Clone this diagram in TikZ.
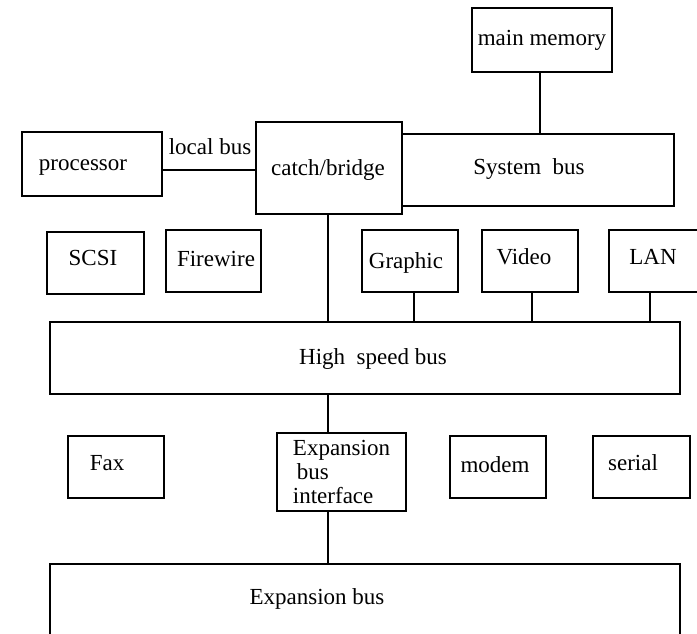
\documentclass[tikz,border=0pt]{standalone}
\usepackage{fontspec}
\setmainfont{Liberation Serif}
\usetikzlibrary{calc}
\begin{document}
\begin{tikzpicture}[x=1pt,y=-1pt,
  box/.style={draw, line width=1.8pt, rectangle, inner sep=0pt},
  txt/.style={inner sep=0pt, font=\fontsize{23}{24}\selectfont},
  wire/.style={line width=1.8pt},
  every label/.style={txt}]
\useasboundingbox (0,0) rectangle (697,634);
\clip (0,0) rectangle (697,634);

% memory and system bus
\node[box, minimum width=140pt, minimum height=64pt,
  label={[yshift=0pt]center:main memory}] (mem) at (542,40) {};
\node[box, minimum width=272pt, minimum height=72pt,
  label={[xshift=-9pt,yshift=1pt]center:System\ \ bus}] (sysbus) at (538,170) {};
\node[box, fill=white, minimum width=146pt, minimum height=92pt,
  label={[xshift=-1pt,yshift=-2pt]center:catch/bridge}] (bridge) at (329,168) {};
\node[box, minimum width=140pt, minimum height=64pt,
  label={[xshift=-9pt,yshift=-4pt]center:processor}] (proc) at (92,164) {};
\node[txt] (lb) at (210,147) {local bus};

% devices on the high speed bus
\node[box, minimum width=97pt, minimum height=62pt,
  label={[xshift=-2.5pt,yshift=5pt]center:SCSI}] (scsi) at (95.5,263) {};
\node[box, minimum width=95pt, minimum height=62pt,
  label={[xshift=2.5pt,yshift=2pt]center:Firewire}] (fw) at (213.5,261) {};
\node[box, minimum width=96pt, minimum height=62pt,
  label={[xshift=-4pt,yshift=-2pt]center:Graphic}] (gfx) at (410,261) {};
\node[box, minimum width=96pt, minimum height=62pt,
  label={[xshift=-6pt,yshift=4pt]center:Video}] (vid) at (530,261) {};
\node[box, minimum width=96pt, minimum height=62pt,
  label={[xshift=-4pt,yshift=4pt]center:LAN}] (lan) at (657,261) {};

\node[box, minimum width=630pt, minimum height=72pt,
  label={[xshift=8pt,yshift=-1pt]center:High\ \ speed bus}] (hsb) at (365,358) {};

% devices on the expansion bus
\node[box, minimum width=96pt, minimum height=62pt,
  label={[xshift=-9pt,yshift=4pt]center:Fax}] (fax) at (116,467) {};
\node[box, minimum width=129pt, minimum height=78pt, txt, align=left,
  inner sep=0pt] (ebi) at (341.5,472)
  {Expansion\\\hspace*{4pt}bus\\interface};
\node[box, minimum width=96pt, minimum height=62pt,
  label={[xshift=-3pt,yshift=2pt]center:modem}] (modem) at (498,467) {};
\node[box, minimum width=97pt, minimum height=62pt,
  label={[xshift=-8.5pt,yshift=4pt]center:serial}] (serial) at (641.5,467) {};

\node[box, minimum width=630pt, minimum height=106pt,
  label={[xshift=-48pt,yshift=18pt]center:Expansion bus}] (expbus) at (365,617) {};

% connection points
\coordinate (m1) at ([xshift=-2pt]mem.south);
\coordinate (p1) at ([yshift=-6pt]proc.east);
\coordinate (b1) at ([xshift=-1pt]bridge.south);
\coordinate (g1) at ([xshift=4pt]gfx.south);
\coordinate (v1) at ([xshift=2pt]vid.south);
\coordinate (l1) at ([xshift=-7pt]lan.south);
\coordinate (e1) at ([xshift=-13.5pt]ebi.north);
\coordinate (e2) at ([xshift=-13.5pt]ebi.south);

% wires
\draw[wire] (m1) -- (m1 |- sysbus.north);
\draw[wire] (p1) -- (p1 -| bridge.west);
\draw[wire] (b1) -- (b1 |- hsb.north);
\draw[wire] (g1) -- (g1 |- hsb.north);
\draw[wire] (v1) -- (v1 |- hsb.north);
\draw[wire] (l1) -- (l1 |- hsb.north);
\draw[wire] (e1 |- hsb.south) -- (e1);
\draw[wire] (e2) -- (e2 |- expbus.north);
\end{tikzpicture}
\end{document}
